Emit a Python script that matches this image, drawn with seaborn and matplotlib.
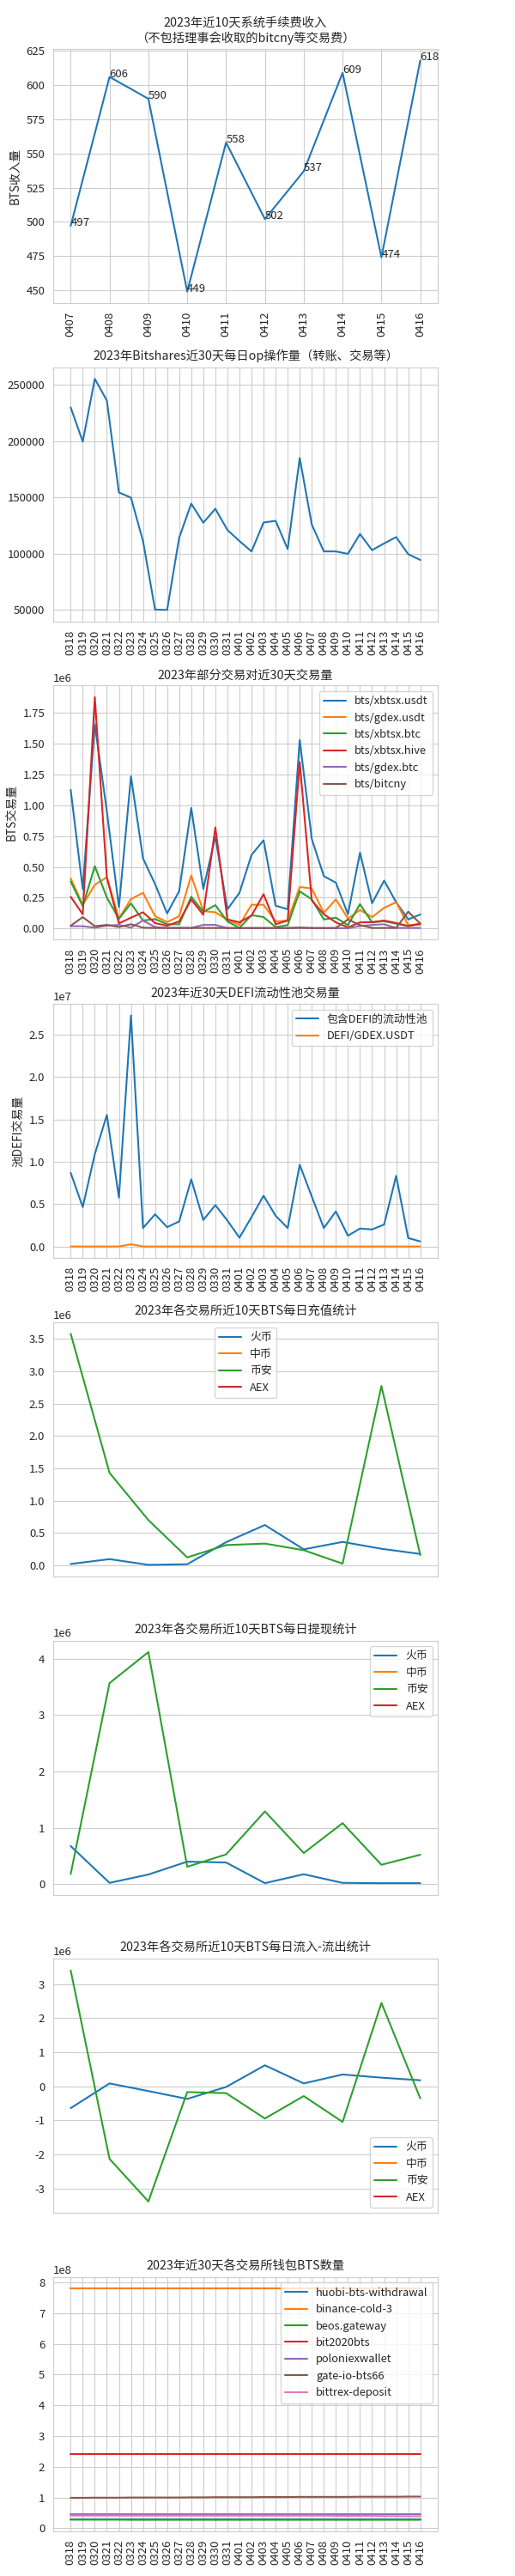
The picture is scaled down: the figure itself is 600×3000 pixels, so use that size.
import numpy as np
import pandas as pd
import matplotlib
matplotlib.use("Agg")
import matplotlib.pyplot as plt
import seaborn as sns

# ---------------- data ----------------
dates30 = ["0318", "0319", "0320", "0321", "0322", "0323", "0324", "0325", "0326", "0327",
           "0328", "0329", "0330", "0331", "0401", "0402", "0403", "0404", "0405", "0406",
           "0407", "0408", "0409", "0410", "0411", "0412", "0413", "0414", "0415", "0416"]
dates10 = ["0407", "0408", "0409", "0410", "0411", "0412", "0413", "0414", "0415", "0416"]

fee_income = [497, 606, 590, 449, 558, 502, 537, 609, 474, 618]

daily_ops = [229900, 199400, 255300, 236000, 154200, 149600, 111000, 50000, 49800, 114000,
             144300, 127300, 139700, 120900, 111000, 101800, 127500, 129000, 103900, 184900,
             125700, 101800, 101800, 99600, 117300, 102900, 108900, 114500, 99300, 94200]

# trading pairs volume (x 1e6 BTS)
pair_names = ["bts/xbtsx.usdt", "bts/gdex.usdt", "bts/xbtsx.btc", "bts/xbtsx.hive", "bts/gdex.btc", "bts/bitcny"]
xbtsx_usdt = [1.125, 0.32, 1.657, 0.95, 0.174, 1.234, 0.569, 0.36, 0.123, 0.304,
              0.978, 0.321, 0.745, 0.156, 0.29, 0.597, 0.716, 0.186, 0.156, 1.53,
              0.727, 0.425, 0.372, 0.116, 0.616, 0.205, 0.389, 0.214, 0.074, 0.114]
gdex_usdt = [0.407, 0.193, 0.355, 0.416, 0.081, 0.239, 0.29, 0.1, 0.053, 0.1,
             0.43, 0.142, 0.132, 0.07, 0.03, 0.193, 0.193, 0.058, 0.065, 0.337,
             0.325, 0.128, 0.237, 0.081, 0.151, 0.093, 0.168, 0.214, 0.028, 0.03]
xbtsx_btc = [0.383, 0.181, 0.506, 0.251, 0.08, 0.204, 0.065, 0.077, 0.035, 0.035,
             0.258, 0.135, 0.19, 0.058, 0.005, 0.109, 0.093, 0.012, 0.028, 0.302,
             0.237, 0.074, 0.088, 0.028, 0.198, 0.05, 0.06, 0.04, 0.02, 0.04]
xbtsx_hive = [0.258, 0.116, 1.877, 0.414, 0.042, 0.088, 0.132, 0.044, 0.023, 0.058,
              0.235, 0.112, 0.82, 0.074, 0.051, 0.105, 0.279, 0.035, 0.065, 1.352,
              0.228, 0.116, 0.05, 0.01, 0.05, 0.052, 0.065, 0.045, 0.02, 0.04]
gdex_btc = [0.019, 0.019, 0.007, 0.023, 0.03, 0.007, 0.065, 0.012, 0.005, 0.005,
            0.005, 0.03, 0.03, 0.003, 0.003, 0.003, 0.003, 0.003, 0.003, 0.005,
            0.003, 0.003, 0.003, 0.003, 0.02, 0.03, 0.035, 0.005, 0.005, 0.005]
bitcny = [0.023, 0.093, 0.019, 0.03, 0.012, 0.035, 0.007, 0.005, 0.005, 0.005,
          0.005, 0.005, 0.005, 0.005, 0.005, 0.005, 0.005, 0.005, 0.005, 0.008,
          0.005, 0.005, 0.005, 0.074, 0.028, 0.005, 0.005, 0.005, 0.137, 0.04]

# DEFI pools (x 1e7)
defi_names = ["包含DEFI的流动性池", "DEFI/GDEX.USDT"]
defi_pool = [0.870, 0.466, 1.09, 1.552, 0.577, 2.726, 0.219, 0.381, 0.229, 0.297,
             0.793, 0.314, 0.489, 0.307, 0.105, 0.348, 0.6, 0.364, 0.219, 0.965,
             0.59, 0.219, 0.415, 0.128, 0.213, 0.202, 0.26, 0.834, 0.101, 0.061]
defi_gdex_usdt = [0.001, 0.001, 0.001, 0.001, 0.002, 0.027, 0.001, 0.001, 0.001, 0.001,
                  0.001, 0.001, 0.001, 0.001, 0.001, 0.001, 0.002, 0.002, 0.001, 0.001,
                  0.001, 0.001, 0.001, 0.001, 0.001, 0.001, 0.001, 0.001, 0.001, 0.001]

# exchanges (x 1e6); 中币 and AEX have no data
exch_names = ["火币", "中币", "币安", "AEX"]
dep_huobi = [0.022, 0.097, 0.009, 0.018, 0.359, 0.624, 0.248, 0.363, 0.257, 0.177]
dep_zb = [np.nan] * 10
dep_binance = [3.578, 1.43, 0.70, 0.124, 0.314, 0.337, 0.235, 0.027, 2.772, 0.159]
dep_aex = [np.nan] * 10

wd_huobi = [0.673, 0.02, 0.168, 0.397, 0.382, 0.015, 0.173, 0.02, 0.015, 0.015]
wd_zb = [np.nan] * 10
wd_binance = [0.178, 3.567, 4.117, 0.306, 0.525, 1.289, 0.55, 1.08, 0.341, 0.52]
wd_aex = [np.nan] * 10

net_huobi = [-0.641, 0.084, -0.14, -0.37, -0.02, 0.616, 0.084, 0.346, 0.253, 0.177]
net_zb = [np.nan] * 10
net_binance = [3.40, -2.13, -3.38, -0.17, -0.20, -0.945, -0.287, -1.046, 2.447, -0.354]
net_aex = [np.nan] * 10

# wallets (x 1e8)
wallet_names = ["huobi-bts-withdrawal", "binance-cold-3", "beos.gateway", "bit2020bts",
                "poloniexwallet", "gate-io-bts66", "bittrex-deposit"]
w_huobi = [0.29, 0.29, 0.29, 0.29, 0.29, 0.29, 0.29, 0.29, 0.29, 0.29,
           0.29, 0.29, 0.29, 0.29, 0.29, 0.29, 0.29, 0.29, 0.29, 0.29,
           0.29, 0.29, 0.29, 0.29, 0.29, 0.29, 0.29, 0.29, 0.29, 0.29]
w_binance = [7.79, 7.79, 7.79, 7.79, 7.79, 7.79, 7.79, 7.79, 7.79, 7.79,
             7.79, 7.79, 7.79, 7.79, 7.79, 7.79, 7.79, 7.79, 7.79, 7.79,
             7.79, 7.79, 7.79, 7.79, 7.79, 7.79, 7.79, 7.79, 7.79, 7.79]
w_beos = [0.28, 0.28, 0.28, 0.28, 0.28, 0.275, 0.275, 0.275, 0.275, 0.275,
          0.275, 0.275, 0.275, 0.275, 0.275, 0.275, 0.275, 0.275, 0.275, 0.275,
          0.275, 0.275, 0.275, 0.275, 0.275, 0.275, 0.275, 0.275, 0.275, 0.275]
w_bit2020 = [2.40, 2.40, 2.40, 2.40, 2.40, 2.40, 2.40, 2.40, 2.40, 2.40,
             2.40, 2.40, 2.40, 2.40, 2.40, 2.40, 2.40, 2.40, 2.40, 2.40,
             2.40, 2.40, 2.40, 2.40, 2.40, 2.40, 2.40, 2.40, 2.40, 2.40]
w_polo = [0.47, 0.47, 0.47, 0.47, 0.47, 0.47, 0.47, 0.47, 0.47, 0.47,
          0.47, 0.47, 0.47, 0.47, 0.47, 0.47, 0.47, 0.47, 0.47, 0.47,
          0.47, 0.47, 0.47, 0.47, 0.47, 0.47, 0.47, 0.47, 0.47, 0.47]
w_gate = [0.99, 0.99, 0.995, 0.995, 0.995, 1.0, 1.0, 1.0, 1.0, 1.0,
          1.005, 1.005, 1.01, 1.01, 1.01, 1.01, 1.015, 1.015, 1.015, 1.02,
          1.02, 1.02, 1.02, 1.02, 1.025, 1.025, 1.025, 1.025, 1.03, 1.03]
w_bittrex = [0.41, 0.41, 0.41, 0.41, 0.41, 0.41, 0.41, 0.41, 0.41, 0.41,
             0.41, 0.41, 0.41, 0.41, 0.41, 0.41, 0.41, 0.41, 0.41, 0.41,
             0.41, 0.41, 0.405, 0.40, 0.40, 0.40, 0.395, 0.395, 0.39, 0.39]

# ---------------- style ----------------
sns.set_style("whitegrid")
plt.rcParams["font.family"] = ["Noto Sans CJK SC", "DejaVu Sans"]
plt.rcParams["axes.unicode_minus"] = False
plt.rcParams.update({
    "xtick.labelsize": 9.5,
    "ytick.labelsize": 9.5,
    "axes.titlesize": 10.3,
    "axes.labelsize": 9.8,
    "legend.fontsize": 9.3,
})
pal = sns.color_palette("tab10")

fig, axes = plt.subplots(8, 1, figsize=(6, 30), dpi=100)
fig.subplots_adjust(left=62 / 600, right=510 / 600, top=1 - 57 / 3000,
                    bottom=1 - 2948 / 3000, hspace=0.2525)


def line(ax, x, y, color, label=None, scale=1.0):
    yy = np.asarray(y, dtype=float) * scale
    sns.lineplot(x=x, y=yy, ax=ax, color=color, label=label,
                 estimator=None, sort=False, linewidth=1.5)


# 1 fee income
ax = axes[0]
line(ax, dates10, fee_income, pal[0])
for i, v in enumerate(fee_income):
    ax.text(i, v, str(v), fontsize=9.5)
ax.set_title("2023年近10天系统手续费收入\n（不包括理事会收取的bitcny等交易费）")
ax.set_ylabel("BTS收入量")
ax.tick_params(axis="x", rotation=90)

# 2 ops
ax = axes[1]
line(ax, dates30, daily_ops, pal[0])
ax.set_title("2023年Bitshares近30天每日op操作量（转账、交易等）")
ax.tick_params(axis="x", rotation=90)

# 3 pairs
ax = axes[2]
for i, (nm, ser) in enumerate(zip(pair_names, [xbtsx_usdt, gdex_usdt, xbtsx_btc, xbtsx_hive, gdex_btc, bitcny])):
    line(ax, dates30, ser, pal[i], label=nm, scale=1e6)
ax.set_title("2023年部分交易对近30天交易量")
ax.set_ylabel("BTS交易量")
ax.tick_params(axis="x", rotation=90)
ax.legend(loc="upper right")

# 4 DEFI
ax = axes[3]
for i, (nm, ser) in enumerate(zip(defi_names, [defi_pool, defi_gdex_usdt])):
    line(ax, dates30, ser, pal[i], label=nm, scale=1e7)
ax.set_title("2023年近30天DEFI流动性池交易量")
ax.set_ylabel("池DEFI交易量")
ax.tick_params(axis="x", rotation=90)
ax.legend(loc="upper right")

# 5-7 exchanges
groups = [
    ("2023年各交易所近10天BTS每日充值统计", [dep_huobi, dep_zb, dep_binance, dep_aex], "upper center"),
    ("2023年各交易所近10天BTS每日提现统计", [wd_huobi, wd_zb, wd_binance, wd_aex], "upper right"),
    ("2023年各交易所近10天BTS每日流入-流出统计", [net_huobi, net_zb, net_binance, net_aex], "lower right"),
]
for k, (title, sers, loc) in enumerate(groups):
    ax = axes[4 + k]
    for i, (nm, ser) in enumerate(zip(exch_names, sers)):
        line(ax, dates10, ser, pal[i], label=nm, scale=1e6)
    ax.set_title(title)
    ax.set_xticks([])
    ax.legend(loc=loc)

# 8 wallets
ax = axes[7]
for i, (nm, ser) in enumerate(zip(wallet_names, [w_huobi, w_binance, w_beos, w_bit2020, w_polo, w_gate, w_bittrex])):
    line(ax, dates30, ser, pal[i], label=nm, scale=1e8)
ax.set_title("2023年近30天各交易所钱包BTS数量")
ax.tick_params(axis="x", rotation=90)
ax.legend(loc="upper right")

fig.savefig("out.png", dpi=100)
